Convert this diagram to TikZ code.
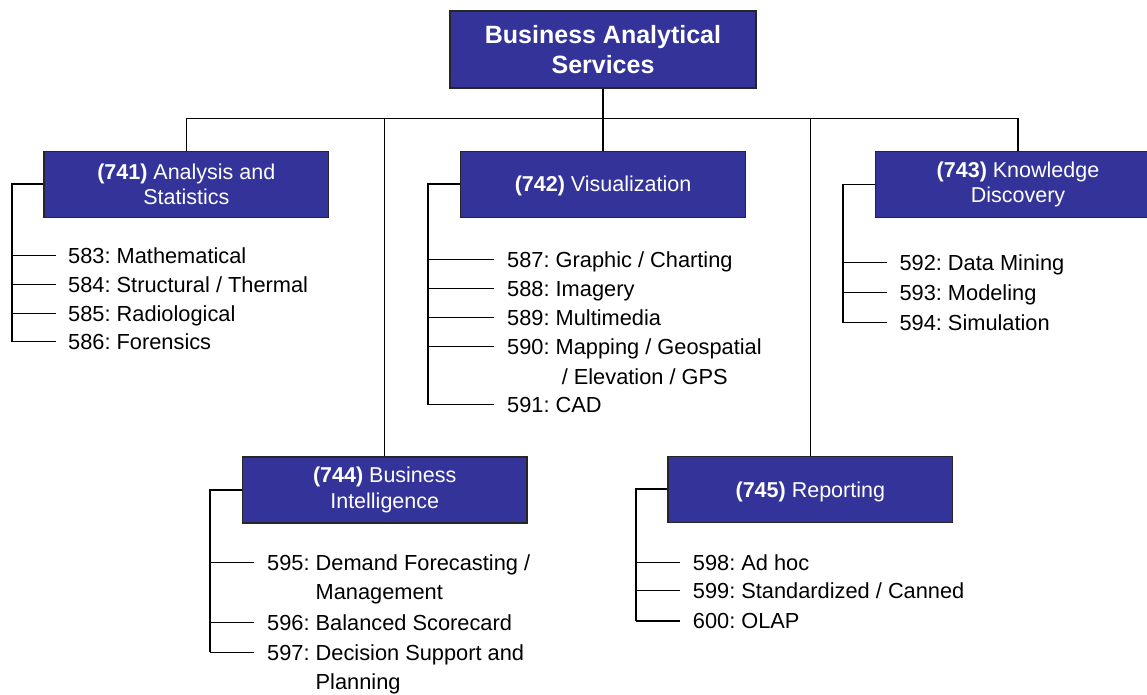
\documentclass[tikz,border=0pt]{standalone}
\usepackage{fontspec}
\setmainfont{Liberation Sans}
\frenchspacing
\definecolor{boxblue}{RGB}{51,51,153}
\tikzset{
  box/.style={draw=black!85, line width=1.3pt, fill=boxblue, text=white, align=center,
    inner sep=0pt, minimum width=284.5pt, minimum height=66pt,
    font=\fontsize{21.5}{25.5}\selectfont},
  onebox/.style={box, text depth=0pt},
  titlebox/.style={box, minimum width=306pt, minimum height=77pt,
    font=\bfseries\fontsize{25}{29.5}\selectfont},
  item/.style={anchor=base west, inner sep=0pt, align=left,
    font=\fontsize{21.8}{29.5}\selectfont},
  bus/.style={line width=1.4pt, black},
  elbow/.style={line width=1.8pt, black},
  stub/.style={line width=1.2pt, black}
}
\begin{document}
\begin{tikzpicture}[x=1pt,y=-1pt]
\useasboundingbox (0,0) rectangle (1147,694);
\clip (0,0) rectangle (1147,694);

% boxes
\node[titlebox] (top) at (603,49.5) {Business Analytical\\Services};
\node[box] (n741) at (186.3,184.2) {\textbf{(741)} Analysis and\\Statistics};
\node[onebox] (n742) at (603,184.2) {\textbf{(742)} Visualization};
\node[box] (n743) at (1018,184.5) {\textbf{(743)} Knowledge\\Discovery};
\node[box] (n744) at (384.7,490) {\textbf{(744)} Business\\Intelligence};
\node[onebox] (n745) at (810.3,489.2) {\textbf{(745)} Reporting};

% bus
\coordinate (bus) at (603,118.5);
\draw[bus] (top.south) -- (bus);
\draw[bus] (n741.north) |- (bus) -| (n743.north);
\draw[bus] (bus) -- (n742.north);
\draw[bus] (n744.north) -- (n744.north |- bus);
\draw[bus] (n745.north) -- (n745.north |- bus);

% ---- 741 group
\coordinate (c741) at (12,184.2);
\coordinate (s583) at (56,255.7);
\coordinate (s584) at (56,284.7);
\coordinate (s585) at (56,313.3);
\coordinate (s586) at (56,341.7);
\node[item] (i583) at ([shift={(12,7.8)}]s583) {583: Mathematical};
\node[item] (i584) at ([shift={(12,7.8)}]s584) {584: Structural / Thermal};
\node[item] (i585) at ([shift={(12,7.8)}]s585) {585: Radiological};
\node[item] (i586) at ([shift={(12,7.8)}]s586) {586: Forensics};
\draw[elbow] (n741.west) -- (c741) -- (c741 |- s586);
\foreach \s in {s583,s584,s585,s586} \draw[stub] (\s -| c741) -- (\s);

% ---- 742 group
\coordinate (c742) at (428.3,184.2);
\coordinate (s587) at (494,259.3);
\coordinate (s588) at (494,288.3);
\coordinate (s589) at (494,317.3);
\coordinate (s590) at (494,346.7);
\coordinate (s591) at (494,404.7);
\node[item] (i587) at ([shift={(13,7.8)}]s587) {587: Graphic / Charting};
\node[item] (i588) at ([shift={(13,7.8)}]s588) {588: Imagery};
\node[item] (i589) at ([shift={(13,7.8)}]s589) {589: Multimedia};
\node[item] (i590) at ([shift={(13,37.3)}]s590) {590: Mapping / Geospatial\\\phantom{590: }\ / Elevation / GPS};
\node[item] (i591) at ([shift={(13,7.8)}]s591) {591: CAD};
\draw[elbow] (n742.west) -- (c742) -- (c742 |- s591);
\foreach \s in {s587,s588,s589,s590,s591} \draw[stub] (\s -| c742) -- (\s);

% ---- 743 group
\coordinate (c743) at (842.7,184.5);
\coordinate (s592) at (887.3,262.7);
\coordinate (s593) at (887.3,292.3);
\coordinate (s594) at (887.3,322.7);
\node[item] (i592) at ([shift={(12,7.8)}]s592) {592: Data Mining};
\node[item] (i593) at ([shift={(12,7.8)}]s593) {593: Modeling};
\node[item] (i594) at ([shift={(12,7.8)}]s594) {594: Simulation};
\draw[elbow] (n743.west) -- (c743) -- (c743 |- s594);
\foreach \s in {s592,s593,s594} \draw[stub] (\s -| c743) -- (\s);

% ---- 744 group
\coordinate (c744) at (210,490);
\coordinate (s595) at (254,562.3);
\coordinate (s596) at (254,622.7);
\coordinate (s597) at (254,652.3);
\node[item] (i595) at ([shift={(13,37.3)}]s595) {595: Demand Forecasting /\\\phantom{595: }Management};
\node[item] (i596) at ([shift={(13,7.8)}]s596) {596: Balanced Scorecard};
\node[item] (i597) at ([shift={(13,37.3)}]s597) {597: Decision Support and\\\phantom{597: }Planning};
\draw[elbow] (n744.west) -- (c744) -- (c744 |- s597);
\foreach \s in {s595,s596,s597} \draw[stub] (\s -| c744) -- (\s);

% ---- 745 group
\coordinate (c745) at (636,489.2);
\coordinate (s598) at (680,562.3);
\coordinate (s599) at (680,590.7);
\coordinate (s600) at (680,621);
\node[item] (i598) at ([shift={(12.7,7.8)}]s598) {598: Ad hoc};
\node[item] (i599) at ([shift={(12.7,7.8)}]s599) {599: Standardized / Canned};
\node[item] (i600) at ([shift={(12.7,7.8)}]s600) {600: OLAP};
\draw[elbow] (n745.west) -- (c745) -- (c745 |- s600);
\foreach \s in {s598,s599,s600} \draw[stub] (\s -| c745) -- (\s);
\end{tikzpicture}
\end{document}
